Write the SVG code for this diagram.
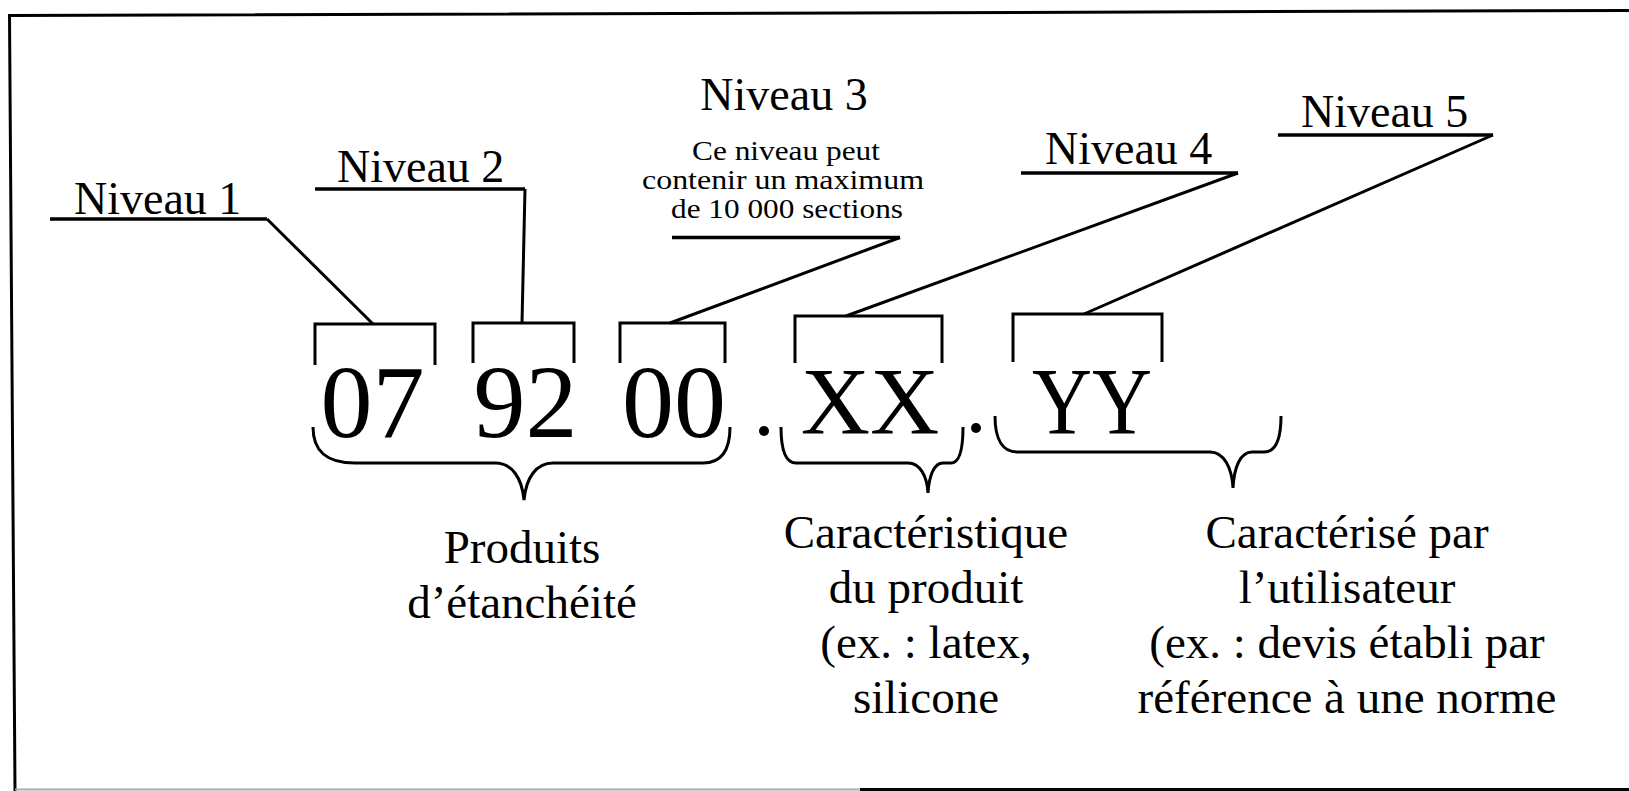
<svg xmlns="http://www.w3.org/2000/svg" width="1629" height="791" viewBox="0 0 1629 791">
<style>
.t{font-family:"Liberation Serif","Times New Roman",serif;fill:#000}
.lbl{font-size:46px}
.small{font-size:27px;text-anchor:middle}
.desc{font-size:47px;text-anchor:middle}
.code{font-size:104px;text-anchor:middle}
.code2{font-size:96px;text-anchor:middle}
.ln{fill:none;stroke:#000;stroke-width:3;stroke-linecap:butt;stroke-linejoin:miter}
.ul{fill:none;stroke:#000;stroke-width:3.5}
</style>
<rect width="1629" height="791" fill="#fff"/>
<g id="frame">
<path class="ln" d="M15,791 L9.5,15.5 L1629,10.5"/>
<path d="M15,789.5 L860,789.5" stroke="#aaa" stroke-width="2" fill="none"/>
<path d="M860,789.5 L1629,789.5" stroke="#000" stroke-width="3" fill="none"/>
</g>
<g id="niveau1">
<text class="t lbl" x="74" y="214">Niveau 1</text>
<path class="ul" d="M50,219 H267"/>
</g>
<g id="niveau2">
<text class="t lbl" x="337" y="182">Niveau 2</text>
<path class="ul" d="M315,189 H525"/>
</g>
<g id="niveau3">
<text class="t lbl" x="784" y="110" text-anchor="middle">Niveau 3</text>
<text class="t small" x="786" y="160" textLength="188" lengthAdjust="spacingAndGlyphs">Ce niveau peut</text>
<text class="t small" x="783" y="189" textLength="282" lengthAdjust="spacingAndGlyphs">contenir un maximum</text>
<text class="t small" x="787" y="218" textLength="232" lengthAdjust="spacingAndGlyphs">de 10 000 sections</text>
<path class="ul" d="M672,237.5 H900"/>
</g>
<g id="niveau4">
<text class="t lbl" x="1045" y="164">Niveau 4</text>
<path class="ul" d="M1021,173 H1238"/>
</g>
<g id="niveau5">
<text class="t lbl" x="1301" y="127">Niveau 5</text>
<path class="ul" d="M1278,135 H1493"/>
</g>
<g id="connectors">
<path class="ln" d="M267,219 L373,324"/>
<path class="ln" d="M525,189 L522,323"/>
<path class="ln" d="M900,237.5 L670,323"/>
<path class="ln" d="M1238,173 L846,316"/>
<path class="ln" d="M1493,135 L1084,314"/>
</g>
<g id="seg07">
<path class="ln" d="M315,365 V324 H435 V365"/>
<text class="t code" x="372.5" y="437">07</text>
</g>
<g id="seg92">
<path class="ln" d="M473,363 V323 H574 V363"/>
<text class="t code" x="525.5" y="437">92</text>
</g>
<g id="seg00">
<path class="ln" d="M620,363 V323 H725 V363"/>
<text class="t code" x="674" y="437">00</text>
</g>
<g id="dot1"><circle cx="764" cy="431" r="5" fill="#000"/></g>
<g id="segXX">
<path class="ln" d="M795,363 V316 H942 V363"/>
<text class="t code2" x="870" y="434">XX</text>
</g>
<g id="dot2"><circle cx="976" cy="428" r="5" fill="#000"/></g>
<g id="segYY">
<path class="ln" d="M1013,362 V314 H1162 V362"/>
<text class="t code2" x="1092" y="434" textLength="120" lengthAdjust="spacingAndGlyphs">YY</text>
</g>
<g id="brace1">
<path class="ln" d="M313,427 C313,452 327,463 355,463 L495,463 C512,463 522,478 524,500 C526,478 536,463 553,463 L703,463 C722,463 730,450 730,427"/>
</g>
<g id="brace2">
<path class="ln" d="M781,427 C781,450 786,463 796,463 L908,463 C920,463 927,476 928,493 C929,476 934,463 943,463 L951,463 C959,463 963,450 963,427"/>
</g>
<g id="brace3">
<path class="ln" d="M995,416 C995,440 1003,452 1017,452 L1210,452 C1224,452 1232,468 1233,488 C1234,468 1240,452 1252,452 L1264,452 C1276,452 1281,440 1281,416"/>
</g>
<g id="desc1">
<text class="t desc" x="522" y="563">Produits</text>
<text class="t desc" x="522" y="618">d’étanchéité</text>
</g>
<g id="desc2">
<text class="t desc" x="926" y="548">Caractéristique</text>
<text class="t desc" x="926" y="603">du produit</text>
<text class="t desc" x="926" y="658">(ex. : latex,</text>
<text class="t desc" x="926" y="713">silicone</text>
</g>
<g id="desc3">
<text class="t desc" x="1347" y="548">Caractérisé par</text>
<text class="t desc" x="1347" y="603">l’utilisateur</text>
<text class="t desc" x="1347" y="658">(ex. : devis établi par</text>
<text class="t desc" x="1347" y="713">référence à une norme</text>
</g>
</svg>
